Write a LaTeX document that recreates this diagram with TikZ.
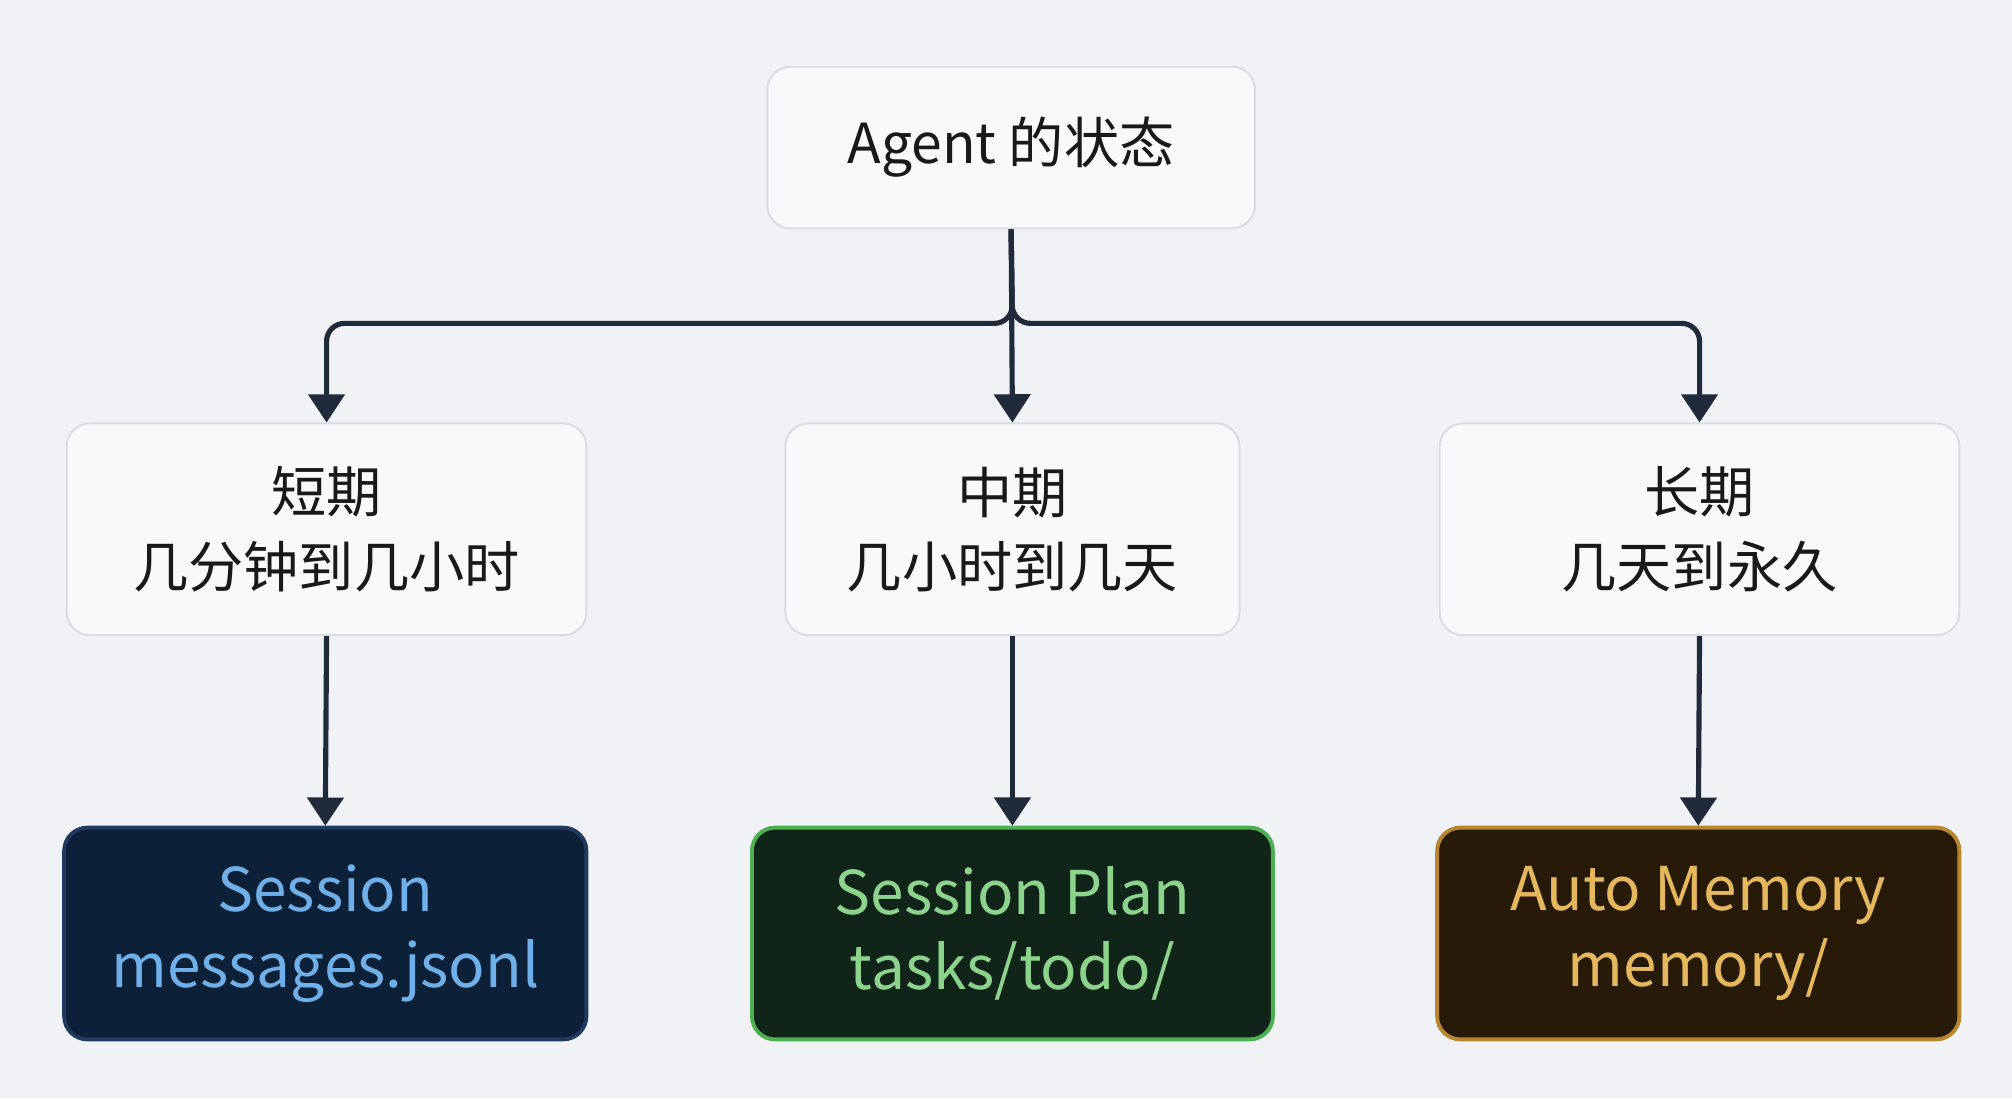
\documentclass[tikz,border=0pt]{standalone}
\usepackage{fontspec}
\setmainfont{Noto Sans CJK SC}
\usetikzlibrary{arrows.meta}
\definecolor{bg}{HTML}{F0F2F6}
\definecolor{nfill}{HTML}{F8F9FB}
\definecolor{nline}{HTML}{D8DCE3}
\definecolor{arr}{HTML}{1F2B3A}
\definecolor{bAline}{HTML}{1E3A5F}\definecolor{bAfill}{HTML}{0C2038}\definecolor{bAtext}{HTML}{6FB0EA}
\definecolor{bBline}{HTML}{4CAF50}\definecolor{bBfill}{HTML}{10241A}\definecolor{bBtext}{HTML}{8CD48C}
\definecolor{bCline}{HTML}{B8862E}\definecolor{bCfill}{HTML}{281A08}\definecolor{bCtext}{HTML}{E6B75C}
\begin{document}
\begin{tikzpicture}[x=1pt,y=-1pt,
  box/.style={draw=nline,line width=1.5pt,fill=nfill,rounded corners=18pt,align=center,font=\fontsize{43}{58}\selectfont,text=black!90,inner sep=0pt},
  dbox/.style={line width=3pt,rounded corners=18pt,align=center,font=\fontsize{47}{59}\selectfont,inner sep=0pt},
  con/.style={draw=arr,line width=4pt,rounded corners=14pt,-{Triangle[length=22pt,width=28pt]}}]
\fill[bg] (0,0) rectangle (1568,856);
\node[box,minimum width=380pt,minimum height=126pt] (top) at (788,115) {Agent 的状态};
\node[box,minimum width=405pt,minimum height=165pt] (s) at (254.5,412.5) {短期\\几分钟到几小时};
\node[box,minimum width=354pt,minimum height=165pt] (m) at (789,412.5) {中期\\几小时到几天};
\node[box,minimum width=405pt,minimum height=165pt] (l) at (1324.5,412.5) {长期\\几天到永久};
\node[dbox,draw=bAline,fill=bAfill,text=bAtext,minimum width=407pt,minimum height=165pt] (bs) at (253.5,727.5) {Session\\messages.jsonl};
\node[dbox,draw=bBline,fill=bBfill,text=bBtext,minimum width=406pt,minimum height=165pt] (bm) at (789,727.5) {Session Plan\\tasks/todo/};
\node[dbox,draw=bCline,fill=bCfill,text=bCtext,minimum width=407pt,minimum height=165pt] (bl) at (1323.5,727.5) {Auto Memory\\memory/};
\coordinate (j) at (789,252);
\draw[con] (top.south) -- (j) -| (s.north);
\draw[con] (top.south) -- (j) -| (l.north);
\draw[con] (top.south) -- (m.north);
\draw[con] (s.south) -- (bs.north);
\draw[con] (m.south) -- (bm.north);
\draw[con] (l.south) -- (bl.north);
\end{tikzpicture}
\end{document}
